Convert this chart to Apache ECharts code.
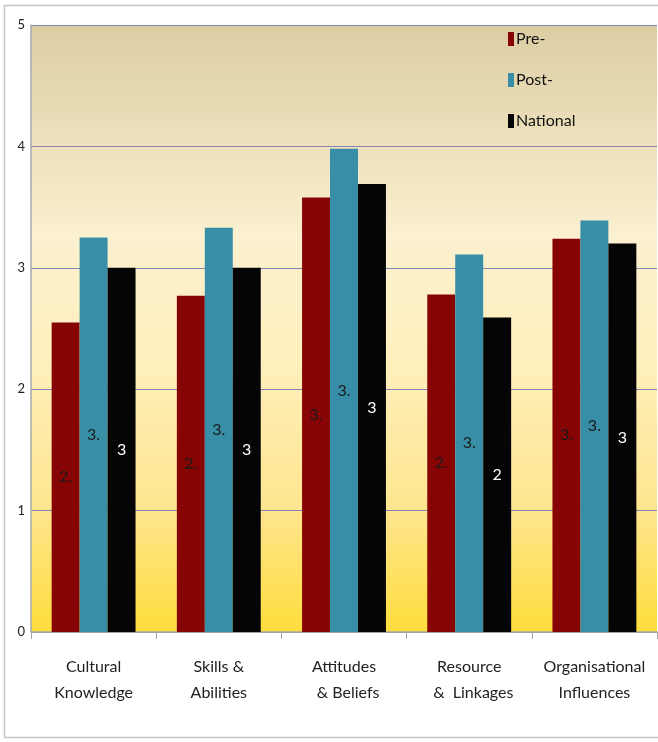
<!DOCTYPE html>
<html>
<head>
<meta charset="utf-8">
<script src="https://cdn.jsdelivr.net/npm/echarts@6/dist/echarts.min.js"></script>
<style>
  html, body { margin: 0; padding: 0; background: #fff; }
  #main { width: 658px; height: 742px; }
</style>
</head>
<body>
<div id="main"></div>
<script>
const categories = ['Cultural\nKnowledge', 'Skills &\nAbilities', 'Attitudes\n  & Beliefs', 'Resource\n  &  Linkages', 'Organisational\nInfluences'];
const preValues = [2.55, 2.77, 3.58, 2.78, 3.24];
const postValues = [3.25, 3.33, 3.98, 3.11, 3.39];
const nationalValues = [3.0, 3.0, 3.69, 2.59, 3.2];
const yTicks = [0, 1, 2, 3, 4, 5];

const chart = echarts.init(document.getElementById('main'), null, { renderer: 'canvas' });

// labels in the original are cut off by the narrow bars
function cutLabel(p) {
  return p.value.toFixed(2).slice(0, 2);
}

const option = {
  backgroundColor: '#fff',
  textStyle: { fontFamily: 'Lato, Open Sans, sans-serif' },
  graphic: [{
    type: 'rect',
    shape: { x: 4.5, y: 5.5, width: 700, height: 732 },
    style: { fill: 'none', stroke: '#c4c4c4', lineWidth: 1.5 },
    silent: true
  }],
  legend: {
    orient: 'vertical',
    left: 503,
    top: 26,
    itemGap: 25,
    itemWidth: 6,
    itemHeight: 14,
    icon: 'rect',
    textStyle: { fontSize: 16, color: '#111', padding: [0, 0, 0, -3] },
    data: ['Pre-', 'Post-', 'National']
  },
  grid: {
    left: 31, right: 1, top: 25, bottom: 110,
    show: true,
    borderWidth: 0,
    backgroundColor: new echarts.graphic.LinearGradient(0, 0, 0, 1, [
      { offset: 0, color: '#dccda3' },
      { offset: 0.35, color: '#fbf0cf' },
      { offset: 0.55, color: '#fff0bd' },
      { offset: 0.8, color: '#fee58e' },
      { offset: 1, color: '#fedd3c' }
    ])
  },
  xAxis: {
    type: 'category',
    data: categories,
    axisLine: { lineStyle: { color: '#a8a8a8', width: 1.5 } },
    axisTick: { show: true, length: 7, lineStyle: { color: '#a8a8a8' } },
    axisLabel: { interval: 0, fontSize: 16, color: '#222', lineHeight: 26, margin: 22 }
  },
  yAxis: {
    type: 'value',
    min: yTicks[0],
    max: yTicks[yTicks.length - 1],
    interval: 1,
    axisLine: { show: true, lineStyle: { color: '#a8a8a8', width: 1.5 } },
    axisTick: { show: false },
    axisLabel: { fontSize: 13, color: '#222', margin: 6 },
    splitLine: { lineStyle: { color: '#8585b5', width: 1 } }
  },
  series: [
    {
      name: 'Pre-', type: 'bar', data: preValues,
      barGap: '0%', barCategoryGap: '33%',
      itemStyle: { color: '#870405' },
      label: { show: true, position: 'inside', formatter: cutLabel, color: '#1a1a1a', fontSize: 16 }
    },
    {
      name: 'Post-', type: 'bar', data: postValues,
      itemStyle: { color: '#388ea7' },
      label: { show: true, position: 'inside', formatter: cutLabel, color: '#1a1a1a', fontSize: 16 }
    },
    {
      name: 'National', type: 'bar', data: nationalValues,
      itemStyle: { color: '#050505' },
      label: {
        show: true, position: 'inside', color: '#fff', fontSize: 16,
        formatter: p => String(Math.floor(p.value))
      }
    }
  ]
};

chart.setOption(option);
</script>
</body>
</html>
